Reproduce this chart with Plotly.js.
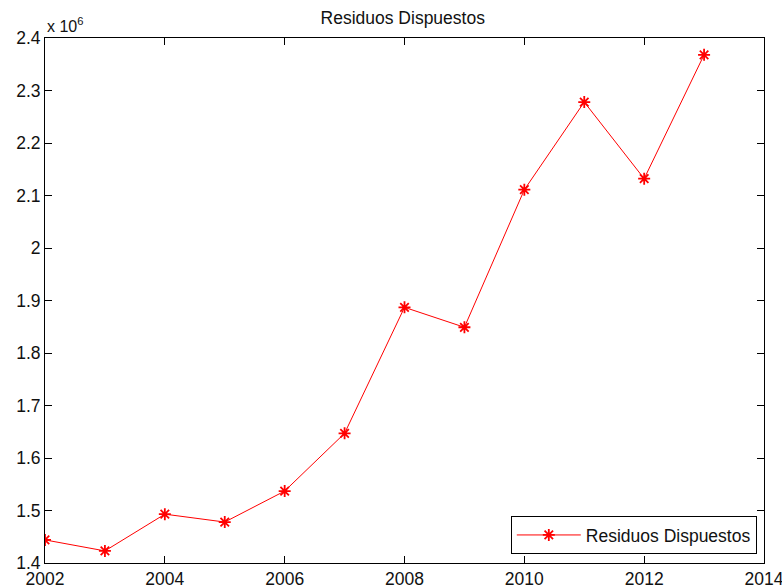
<!DOCTYPE html>
<html>
<head>
<meta charset="utf-8">
<script src="https://cdn.plot.ly/plotly-3.0.1.min.js"></script>
<style>
  html, body { margin: 0; padding: 0; background: #fff; }
  #chart { width: 782px; height: 588px; }
</style>
</head>
<body>
<div id="chart"></div>
<script>
// Waste disposed per year (values in units of 10^6)
const years = [2002, 2003, 2004, 2005, 2006, 2007, 2008, 2009, 2010, 2011, 2012, 2013];
const residuos = [1.444, 1.423, 1.493, 1.478, 1.537, 1.647, 1.887, 1.849, 2.111, 2.278, 2.132, 2.368];
const xTicks = [2002, 2004, 2006, 2008, 2010, 2012, 2014];
const yTicks = [1.4, 1.5, 1.6, 1.7, 1.8, 1.9, 2.0, 2.1, 2.2, 2.3, 2.4];
const yTickText = ['1.4', '1.5', '1.6', '1.7', '1.8', '1.9', '2', '2.1', '2.2', '2.3', '2.4'];

const FONT = 'Liberation Sans, Arial, sans-serif';
const FS = 17.5;

const trace = {
  x: years,
  y: residuos,
  type: 'scatter',
  mode: 'lines+markers',
  name: 'Residuos Dispuestos',
  line: { color: '#ff0000', width: 1 },
  marker: {
    symbol: 'asterisk-open',
    size: 10,
    color: '#ff0000',
    line: { color: '#ff0000', width: 1.8 }
  }
};

const axisCommon = {
  showgrid: false,
  zeroline: false,
  showline: true,
  linecolor: '#000',
  linewidth: 1,
  mirror: 'ticks',
  ticks: 'inside',
  ticklen: 7,
  tickwidth: 1,
  tickcolor: '#000',
  ticklabeloverflow: 'allow',
  tickfont: { family: FONT, size: FS, color: '#111' }
};

const layout = {
  width: 782,
  height: 588,
  margin: { l: 45, r: 18, t: 38, b: 25, pad: 0 },
  paper_bgcolor: '#fff',
  plot_bgcolor: '#fff',
  font: { family: FONT, size: FS, color: '#111' },
  title: {
    text: 'Residuos Dispuestos',
    font: { family: FONT, size: FS, color: '#111' },
    x: 0.515,
    xanchor: 'center',
    y: 0.969,
    yanchor: 'middle'
  },
  xaxis: Object.assign({}, axisCommon, {
    range: [2002, 2014],
    tickvals: xTicks,
    ticktext: xTicks.map(String),
    ticklabelstandoff: 0
  }),
  yaxis: Object.assign({}, axisCommon, {
    range: [1.4, 2.4],
    tickvals: yTicks,
    ticktext: yTickText,
    ticklabelstandoff: 0
  }),
  showlegend: true,
  legend: {
    x: 0.99,
    xanchor: 'right',
    y: 0.017,
    yanchor: 'bottom',
    bgcolor: '#fff',
    bordercolor: '#000',
    borderwidth: 1,
    font: { family: FONT, size: FS, color: '#111' },
    itemwidth: 64
  },
  annotations: [{
    text: 'x 10<sup>6</sup>',
    xref: 'paper',
    yref: 'paper',
    x: 0,
    y: 1,
    xanchor: 'left',
    yanchor: 'bottom',
    xshift: 0,
    yshift: 1,
    showarrow: false,
    font: { family: FONT, size: 16, color: '#111' }
  }]
};

Plotly.newPlot('chart', [trace], layout, { displayModeBar: false, staticPlot: true });
</script>
</body>
</html>
